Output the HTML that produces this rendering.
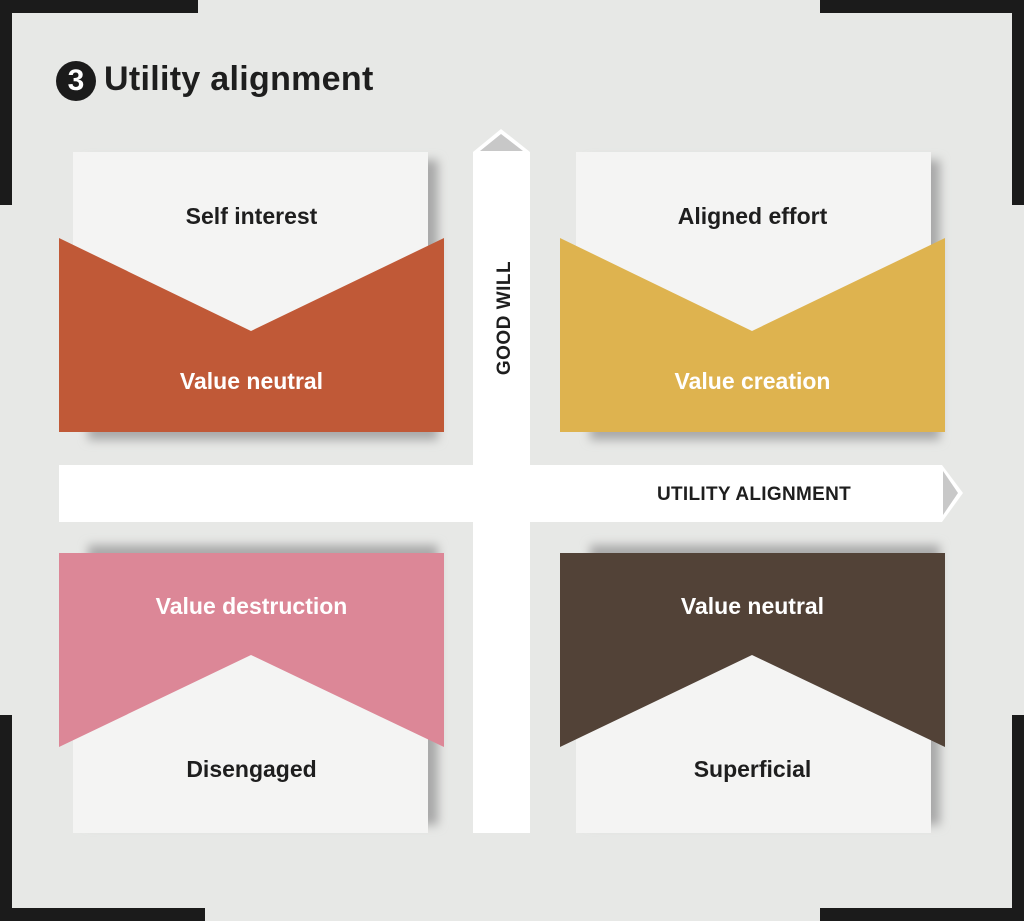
<!DOCTYPE html>
<html><head><style>
body{margin:0;width:1024px;height:921px;background:#e7e8e6;position:relative;overflow:hidden;font-family:"Liberation Sans",sans-serif;}
.b{position:absolute;background:#1b1b1b}
.lbl{position:absolute;font-weight:bold;font-size:23px;text-align:center;width:385px;color:#1e1e1e}
</style></head><body>
<div class="b" style="left:0;top:0;width:198px;height:13px"></div>
<div class="b" style="left:0;top:0;width:12px;height:205px"></div>
<div class="b" style="left:820px;top:0;width:204px;height:13px"></div>
<div class="b" style="left:1012px;top:0;width:12px;height:205px"></div>
<div class="b" style="left:0;top:908px;width:205px;height:13px"></div>
<div class="b" style="left:0;top:715px;width:12px;height:206px"></div>
<div class="b" style="left:820px;top:908px;width:204px;height:13px"></div>
<div class="b" style="left:1012px;top:715px;width:12px;height:206px"></div>

<div style="position:absolute;left:56px;top:61px;width:40px;height:40px;border-radius:50%;background:#1b1b1b;color:#fff;font-weight:bold;font-size:30px;line-height:40px;text-align:center">3</div>
<div style="position:absolute;left:104px;top:60px;font-weight:bold;font-size:34px;color:#1e1e1e;letter-spacing:0.3px">Utility alignment</div>

<svg width="1024" height="921" style="position:absolute;left:0;top:0">
<defs><filter id="s" x="-10%" y="-10%" width="120%" height="130%"><feGaussianBlur stdDeviation="5"/></filter></defs>
<rect x="88" y="160" width="350" height="280" fill="#a8a8a8" filter="url(#s)"/>
<rect x="590" y="160" width="350" height="280" fill="#a8a8a8" filter="url(#s)"/>
<rect x="88" y="545" width="350" height="280" fill="#a8a8a8" filter="url(#s)"/>
<rect x="590" y="545" width="350" height="280" fill="#a8a8a8" filter="url(#s)"/>
<rect x="73" y="152" width="355" height="280" fill="#f4f4f3"/>
<polygon points="59,238 251,331 444,238 444,432 59,432" fill="#c05937"/>
<rect x="576" y="152" width="355" height="280" fill="#f4f4f3"/>
<polygon points="560,238 752,331 945,238 945,432 560,432" fill="#deb34f"/>
<rect x="73" y="553" width="355" height="280" fill="#f4f4f3"/>
<polygon points="59,553 444,553 444,747 251,655 59,747" fill="#dc8797"/>
<rect x="576" y="553" width="355" height="280" fill="#f4f4f3"/>
<polygon points="560,553 945,553 945,747 752,655 560,747" fill="#524237"/>
<rect x="473" y="152" width="57" height="681" fill="#fff"/>
<polygon points="473,152 501,129 530,152" fill="#fff"/>
<polygon points="480,151 501,134 523,151" fill="#c8c8c8"/>
<rect x="59" y="465" width="883" height="57" fill="#fff"/>
<polygon points="942,465 963,493 942,522" fill="#fff"/>
<polygon points="943,471 958,493 943,515" fill="#c8c8c8"/>
<text x="0" y="0" transform="translate(510,318) rotate(-90)" text-anchor="middle" font-family="Liberation Sans,sans-serif" font-weight="bold" font-size="19" fill="#1e1e1e" letter-spacing="0.5">GOOD WILL</text>
<text x="754" y="500" text-anchor="middle" font-family="Liberation Sans,sans-serif" font-weight="bold" font-size="19" fill="#1e1e1e" letter-spacing="0.3">UTILITY ALIGNMENT</text>
</svg>

<div class="lbl" style="left:59px;top:203px">Self interest</div>
<div class="lbl" style="left:59px;top:368px;color:#fff">Value neutral</div>
<div class="lbl" style="left:560px;top:203px">Aligned effort</div>
<div class="lbl" style="left:560px;top:368px;color:#fff">Value creation</div>
<div class="lbl" style="left:59px;top:593px;color:#fff">Value destruction</div>
<div class="lbl" style="left:59px;top:756px">Disengaged</div>
<div class="lbl" style="left:560px;top:593px;color:#fff">Value neutral</div>
<div class="lbl" style="left:560px;top:756px">Superficial</div>
</body></html>
